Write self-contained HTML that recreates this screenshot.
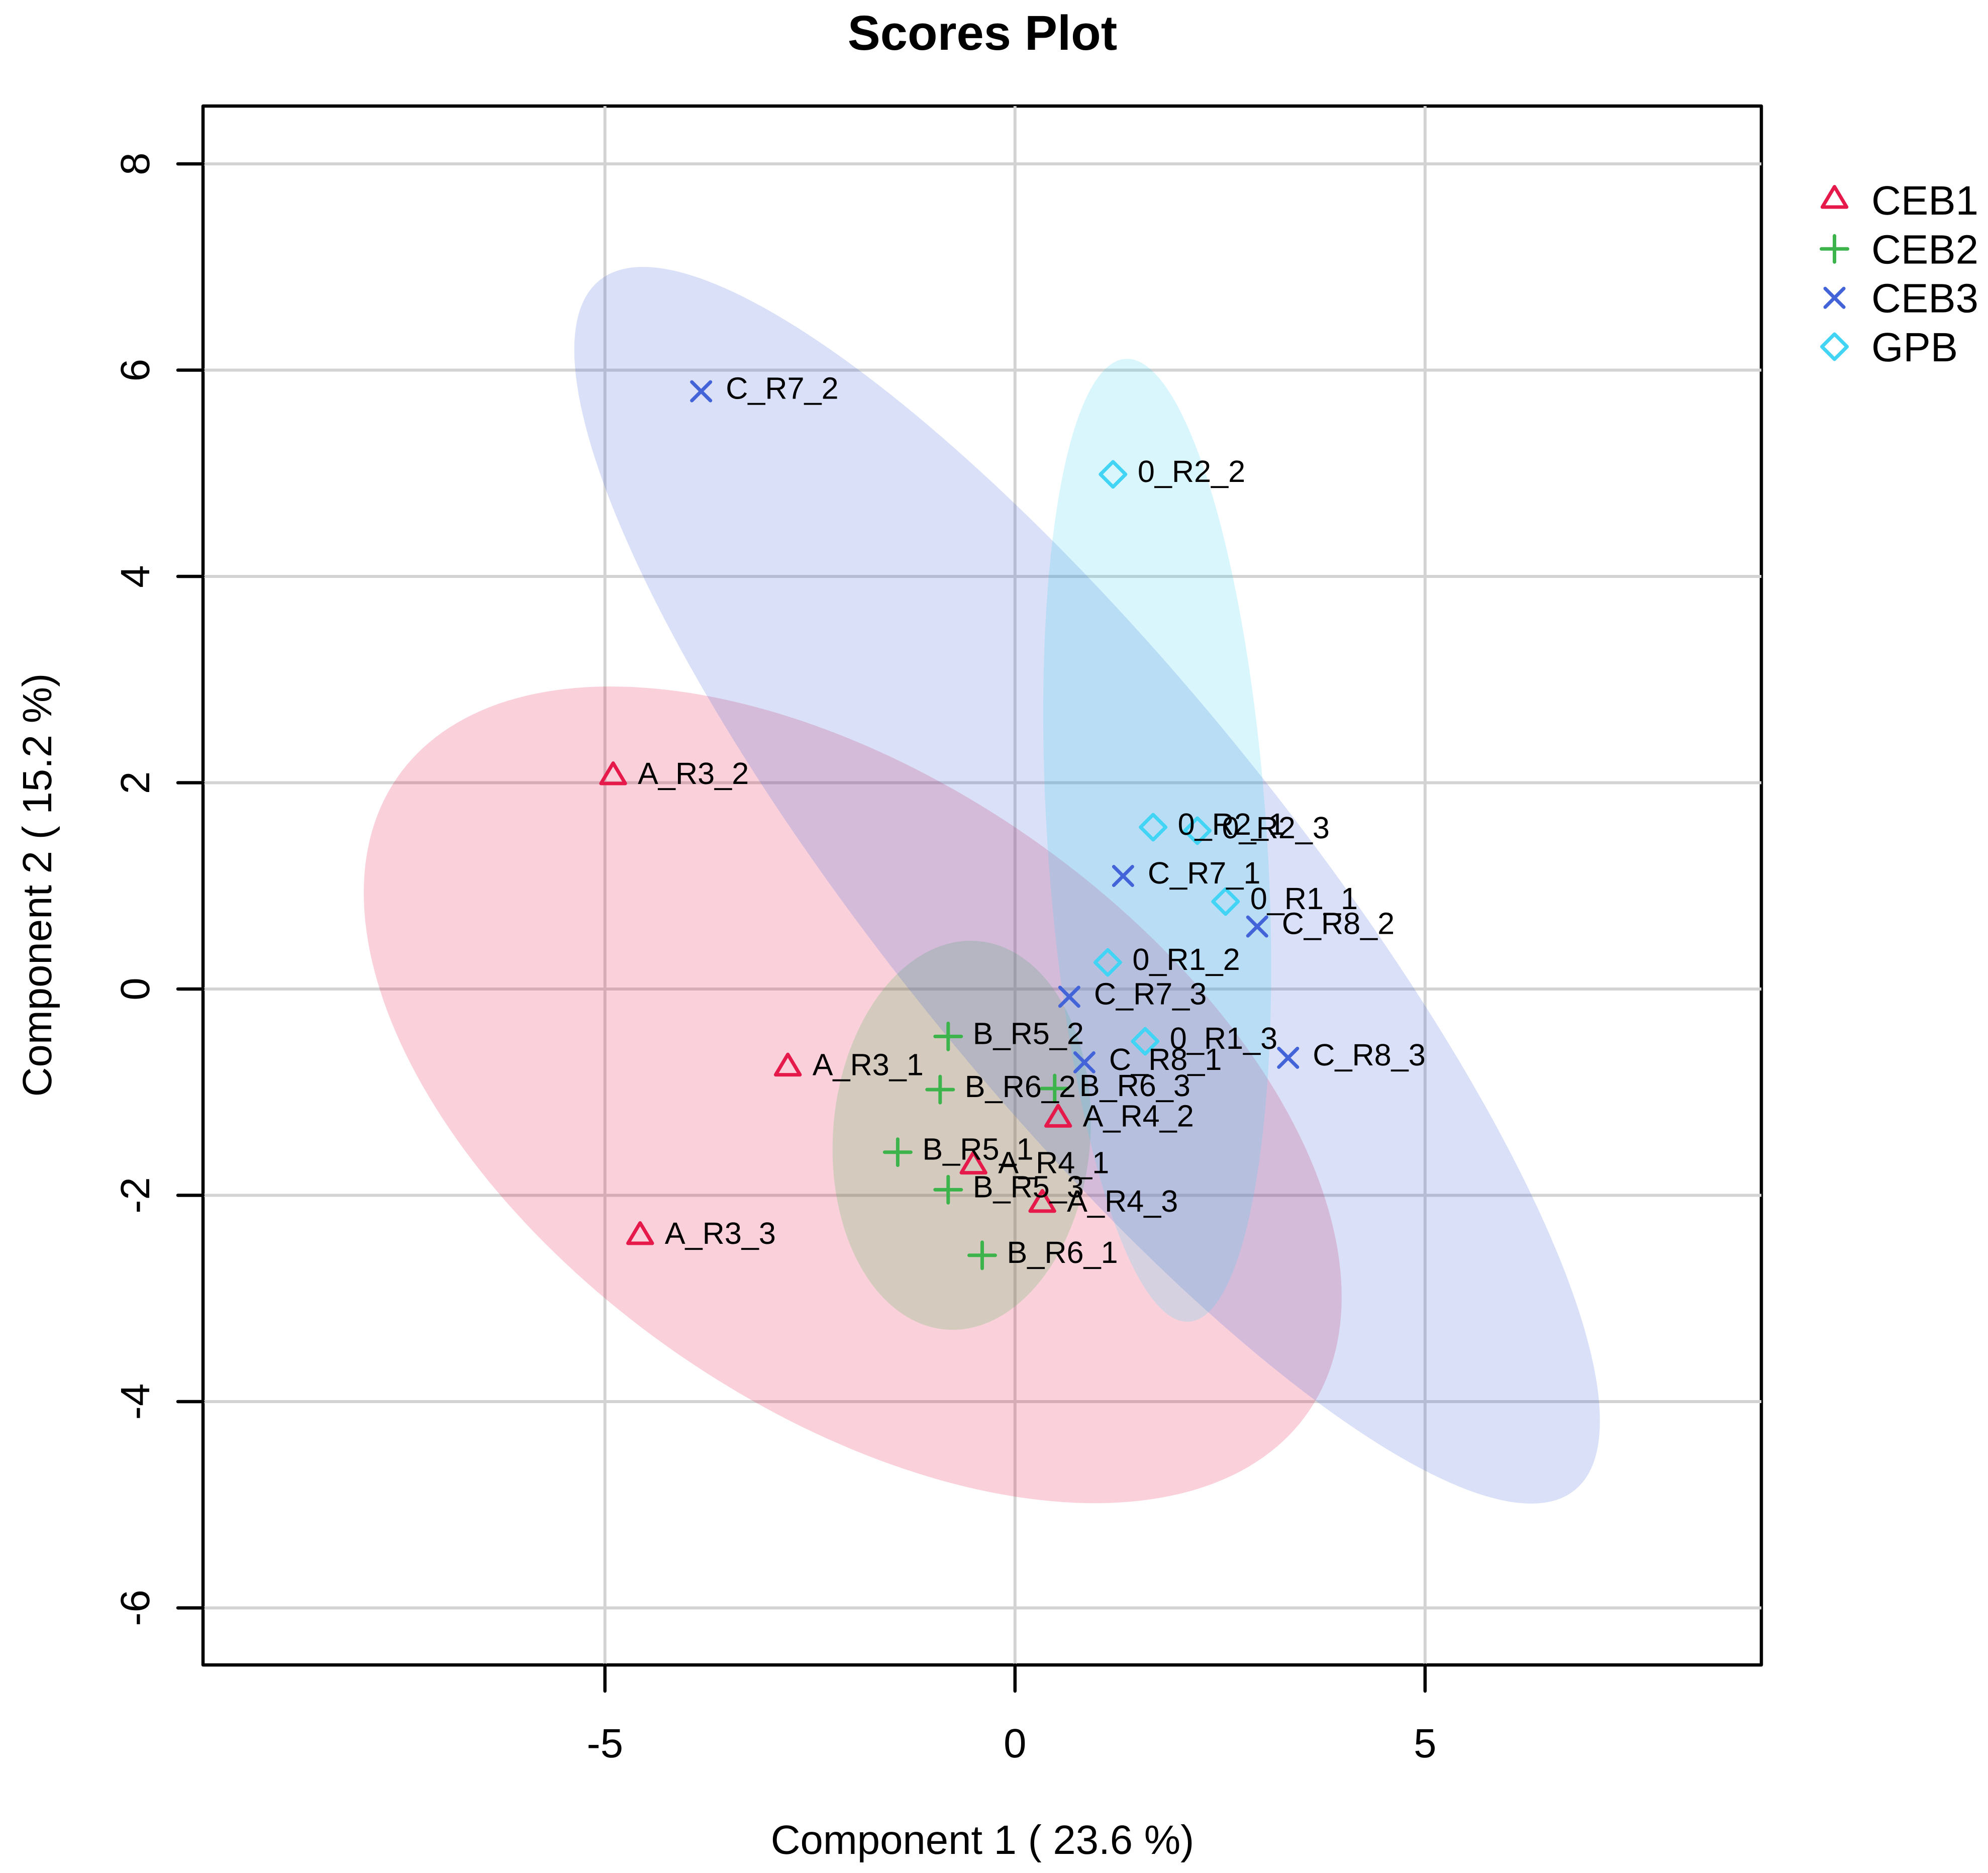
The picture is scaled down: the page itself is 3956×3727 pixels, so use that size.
<!DOCTYPE html>
<html lang="en">
<head>
<meta charset="utf-8">
<title>Scores Plot</title>
<style>
html,body{margin:0;padding:0;background:#fff;}
svg{display:block;}
text{font-family:"Liberation Sans",sans-serif;fill:#000;text-rendering:geometricPrecision;}
</style>
</head>
<body>
<svg id="chart" xmlns="http://www.w3.org/2000/svg" width="3956" height="3727" viewBox="0 0 3956 3727">
  <rect x="0" y="0" width="3956" height="3727" fill="#ffffff"/>
  <g id="frame"></g>
  <g id="grid"></g>
  <g id="ellipses"></g>
  <g id="points"></g>
  <g id="labels"></g>
  <g id="axes"></g>
  <g id="legend"></g>
  <text x="1955" y="99" font-size="97.5" font-weight="700" text-anchor="middle">Scores Plot</text>
  <text x="1955" y="3689" font-size="81.5" text-anchor="middle">Component 1 ( 23.6 %)</text>
  <text transform="translate(102,1761) rotate(-90)" font-size="81.5" text-anchor="middle">Component 2 ( 15.2 %)</text>
</svg>
<script>
// ---- chart data ----
var groupNames = ["CEB1", "CEB2", "CEB3", "GPB"];
var xTicks = [-5, 0, 5];
var yTicks = [-6, -4, -2, 0, 2, 4, 6, 8];

var ceb1Names = ["A_R3_1", "A_R3_2", "A_R3_3", "A_R4_1", "A_R4_2", "A_R4_3"];
var ceb1X = [-2.77, -4.90, -4.571, -0.506, 0.526, 0.333];
var ceb1Y = [-0.763, 2.061, -2.397, -1.713, -1.259, -2.085];

var ceb2Names = ["B_R5_1", "B_R5_2", "B_R5_3", "B_R6_1", "B_R6_2", "B_R6_3"];
var ceb2X = [-1.43, -0.815, -0.815, -0.40, -0.913, 0.484];
var ceb2Y = [-1.582, -0.46, -1.946, -2.582, -0.975, -0.965];

var ceb3Names = ["C_R7_1", "C_R7_2", "C_R7_3", "C_R8_1", "C_R8_2", "C_R8_3"];
var ceb3X = [1.318, -3.827, 0.662, 0.846, 2.953, 3.33];
var ceb3Y = [1.096, 5.795, -0.075, -0.711, 0.606, -0.667];

var gpbNames = ["0_R1_1", "0_R1_2", "0_R1_3", "0_R2_1", "0_R2_2", "0_R2_3"];
var gpbX = [2.567, 1.131, 1.587, 1.684, 1.195, 2.223];
var gpbY = [0.848, 0.258, -0.507, 1.569, 4.99, 1.535];

// ellipse parameters, in data units, one value per group
var ellipseCenterX = [-1.979, -0.65, 0.879, 1.734];
var ellipseCenterY = [-1.026, -1.418, 1.006, 1.442];
var ellipseHalfX = [5.962, 1.575, 6.253, 1.39];
var ellipseHalfY = [3.959, 1.886, 5.995, 4.668];
var ellipseCorr = [-0.495, 0.07, -0.866, -0.264];

// ---- layout ----
var groupColors = ["#E6194B", "#3CB44B", "#4363D8", "#42D4F4"];
var groupShapes = ["triangle", "plus", "cross", "diamond"];
var PLOT = {left: 404, right: 3505, top: 211, bottom: 3313};
var X0 = 2019.8, UX = 163.2, Y0 = 1968, UY = 205.24;
var SVGNS = "http://www.w3.org/2000/svg";

function sx(v) { return X0 + v * UX; }
function sy(v) { return Y0 - v * UY; }
function make(tag, attrs, parent) {
  var el = document.createElementNS(SVGNS, tag);
  for (var k in attrs) { el.setAttribute(k, attrs[k]); }
  parent.appendChild(el);
  return el;
}
function shapePath(shape, cx, cy) {
  if (shape === "triangle") {
    var top = cy - 26.5, bot = cy + 14, hw = 24.2;
    return "M" + cx + " " + top + "L" + (cx + hw) + " " + bot + "L" + (cx - hw) + " " + bot + "Z";
  }
  if (shape === "plus") {
    var p = 26;
    return "M" + (cx - p) + " " + cy + "L" + (cx + p) + " " + cy + "M" + cx + " " + (cy - p) + "L" + cx + " " + (cy + p);
  }
  if (shape === "cross") {
    var c = 18.5;
    return "M" + (cx - c) + " " + (cy - c) + "L" + (cx + c) + " " + (cy + c) + "M" + (cx - c) + " " + (cy + c) + "L" + (cx + c) + " " + (cy - c);
  }
  var d = 25;
  return "M" + cx + " " + (cy - d) + "L" + (cx + d) + " " + cy + "L" + cx + " " + (cy + d) + "L" + (cx - d) + " " + cy + "Z";
}
function markerStyle(i) {
  return {fill: "none", stroke: groupColors[i], "stroke-width": 7, "stroke-linecap": "round", "stroke-linejoin": "round"};
}

// ---- frame ----
var frameG = document.getElementById("frame");
var frameRect = make("rect", {x: PLOT.left, y: PLOT.top, width: PLOT.right - PLOT.left, height: PLOT.bottom - PLOT.top, fill: "none", stroke: "#000", "stroke-width": 6.5, "stroke-linejoin": "round"}, frameG);



// ---- grid ----
var gridG = document.getElementById("grid");
xTicks.forEach(function (t) {
  var line = make("line", {x1: sx(t), x2: sx(t), y1: PLOT.top, y2: PLOT.bottom, stroke: "#d3d3d3", "stroke-width": 6}, gridG);
  
  
});
yTicks.forEach(function (t) {
  var line = make("line", {x1: PLOT.left, x2: PLOT.right, y1: sy(t), y2: sy(t), stroke: "#d3d3d3", "stroke-width": 6}, gridG);
  
  
});

// ---- ellipses ----
var ellipseG = document.getElementById("ellipses");
groupNames.forEach(function (name, i) {
  var pts = [];
  var r = ellipseCorr[i], q = Math.sqrt(1 - r * r);
  for (var k = 0; k < 240; k++) {
    var t = k / 240 * 2 * Math.PI;
    var dx = ellipseHalfX[i] * Math.cos(t);
    var dy = ellipseHalfY[i] * (r * Math.cos(t) + q * Math.sin(t));
    pts.push(sx(ellipseCenterX[i] + dx).toFixed(1) + "," + sy(ellipseCenterY[i] + dy).toFixed(1));
  }
  var poly = make("polygon", {points: pts.join(" "), fill: groupColors[i], "fill-opacity": 0.2, stroke: "none"}, ellipseG);
  
  
});

// ---- points and labels ----
var pointsG = document.getElementById("points");
var labelsG = document.getElementById("labels");
var groupSeries = [
  [ceb1Names, ceb1X, ceb1Y],
  [ceb2Names, ceb2X, ceb2Y],
  [ceb3Names, ceb3X, ceb3Y],
  [gpbNames, gpbX, gpbY]
];
groupSeries.forEach(function (series, g) {
  series[0].forEach(function (label, j) {
    var cx = sx(series[1][j]), cy = sy(series[2][j]);
    var attrs = markerStyle(g);
    attrs.d = shapePath(groupShapes[g], cx, cy);
    var mark = make("path", attrs, pointsG);
    
    
    var txt = make("text", {x: cx + 49, y: cy + 15, "font-size": 61.2}, labelsG);
    txt.textContent = label;
    
    
  });
});

// ---- axes ----
var axesG = document.getElementById("axes");
xTicks.forEach(function (t) {
  var tick = make("line", {x1: sx(t), x2: sx(t), y1: PLOT.bottom, y2: PLOT.bottom + 52, stroke: "#000", "stroke-width": 6.5, "stroke-linecap": "round"}, axesG);
  
  
  var lab = make("text", {x: sx(t), y: 3497, "font-size": 81.5, "text-anchor": "middle"}, axesG);
  lab.textContent = String(t);
  
  
});
yTicks.forEach(function (t) {
  var tick = make("line", {x1: PLOT.left - 50, x2: PLOT.left, y1: sy(t), y2: sy(t), stroke: "#000", "stroke-width": 6.5, "stroke-linecap": "round"}, axesG);
  
  
  var lab = make("text", {transform: "translate(297," + sy(t) + ") rotate(-90)", "font-size": 81.5, "text-anchor": "middle"}, axesG);
  lab.textContent = String(t);
  
  
});

// ---- legend ----
var legendG = document.getElementById("legend");
groupNames.forEach(function (name, i) {
  var rowY = 398 + i * 97.3;
  var attrs = markerStyle(i);
  attrs.d = shapePath(groupShapes[i], 3650.5, rowY);
  var mark = make("path", attrs, legendG);
  
  
  var txt = make("text", {x: 3724, y: rowY + 29, "font-size": 81.5}, legendG);
  txt.textContent = name;
  
  
});
</script>
</body>
</html>
